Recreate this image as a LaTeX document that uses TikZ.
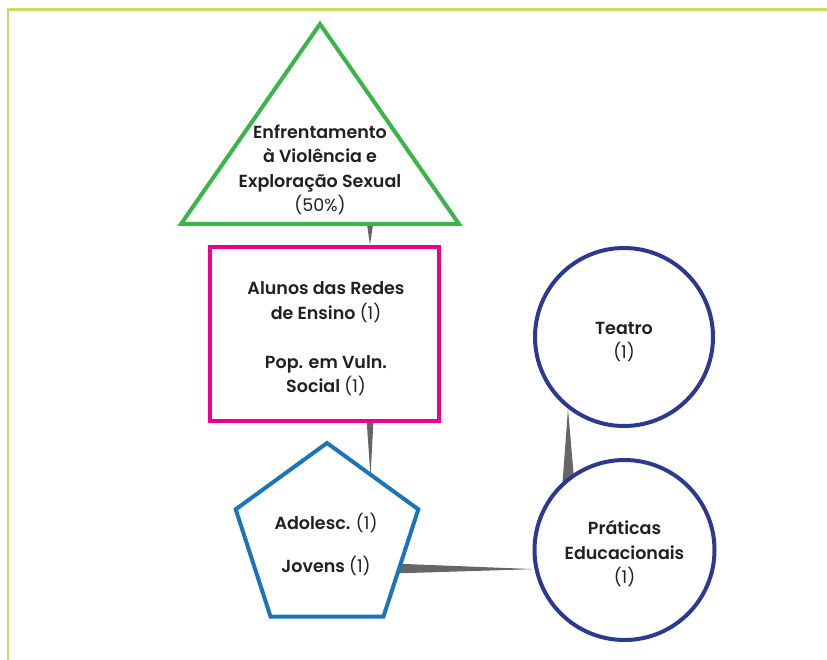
\documentclass[tikz,border=0pt]{standalone}
\usepackage{fontspec}
\usetikzlibrary{shapes.geometric,calc,backgrounds}
\newfontfamily\wordfont{Poppins SemiBold}
\newfontfamily\numfont{Poppins}
\newcommand\qty[1]{{\numfont #1}}
\definecolor{framelime}{HTML}{CADC5C}
\definecolor{trigreen}{HTML}{3AB54A}
\definecolor{boxmagenta}{HTML}{EC008C}
\definecolor{pentblue}{HTML}{1B75BB}
\definecolor{circnavy}{HTML}{2B3990}
\definecolor{wedgegray}{HTML}{666666}
\definecolor{inkblack}{HTML}{231F20}
\tikzset{
  txt/.style={align=center, text=inkblack, font=\wordfont\fontsize{17.5}{24.5}\selectfont},
  shapeline/.style={line width=4pt, fill=white, line join=miter},
  wedge/.style={fill=wedgegray, draw=none},
}
\begin{document}
\begin{tikzpicture}[x=1pt,y=-1pt]
\useasboundingbox (0,0) rectangle (827,660);
% outer frame (top and left edges only)
\draw[framelime, line width=2.5pt] (8,660) -- (8,9.5) -- (827,9.5);

% triangle
\coordinate (triA) at (320,24);
\coordinate (triR) at (459,224);
\coordinate (triL) at (181,224);
\draw[shapeline, draw=trigreen] (triA) -- (triR) -- (triL) -- cycle;
\node[txt] (enfr) at (320,170) {Enfrentamento\\à Violência e\\Exploração Sexual\\\qty{(50\%)}};

% box
\node[shapeline, draw=boxmagenta, rectangle, minimum width=229pt, minimum height=174pt, inner sep=0pt] (box) at (324.5,334) {};
\node[txt] (boxtxt) at (326,339) {Alunos das Redes\\de Ensino \qty{(1)}\\[24.5pt]Pop. em Vuln.\\Social \qty{(1)}};

% pentagon
\node[shapeline, draw=pentblue, regular polygon, regular polygon sides=5, minimum size=192pt, inner sep=0pt] (pent) at (327,539) {};
\node[txt] (penttxt) at (326,544.5) {Adolesc. \qty{(1)}\\[18pt]Jovens \qty{(1)}};

% circles
\node[shapeline, draw=circnavy, circle, minimum size=178pt, inner sep=0pt] (teatro) at (624,337) {};
\node[txt] (teatrotxt) at (624,342) {Teatro\\\qty{(1)}};
\node[shapeline, draw=circnavy, circle, minimum size=180pt, inner sep=0pt] (prat) at (624.5,550) {};
\node[txt] (prattxt) at (624.5,554) {Práticas\\Educacionais\\\qty{(1)}};

% tapered connectors, behind the shapes
\begin{scope}[on background layer]
  \coordinate (w1) at ($(triL)!0.68!(triR)$);
  \fill[wedge] ($(w1)+(-4,-6)$) -- ($(w1)+(4,-6)$) -- (box.north -| w1) -- cycle;
  \fill[wedge] ($(box.south -| w1)+(-3.5,-4)$) -- ($(box.south -| w1)+(3.5,-4)$) -- ($(pent.center)+(43.5,-62)$) -- cycle;
  \fill[wedge] ($(pent.center)+(65,24.5)$) -- ($(pent.center)+(65,34.5)$) -- (prat.192) -- cycle;
  \fill[wedge] (teatro.232) -- ($(prat.center)+(-62.5,-60)$) -- ($(prat.center)+(-49.5,-60)$) -- cycle;
\end{scope}
\end{tikzpicture}
\end{document}
